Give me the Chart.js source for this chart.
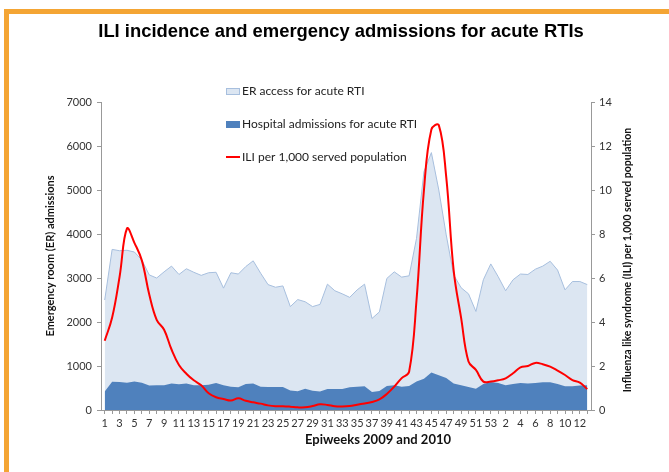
<!DOCTYPE html>
<html>
<head>
<meta charset="utf-8">
<title>ILI incidence and emergency admissions for acute RTIs</title>
<script src="https://cdn.jsdelivr.net/npm/chart.js@4.4.0/dist/chart.umd.min.js"></script>
<style>
  html, body { margin: 0; padding: 0; background: #fff; }
  .wrap { position: relative; width: 669px; height: 472px; overflow: hidden; }
  .frame_top { position: absolute; left: 4px; top: 9px; width: 665px; height: 5px; background: #F4A534; }
  .frame_left { position: absolute; left: 4px; top: 9px; width: 5px; height: 463px; background: #F4A534; }
  canvas { position: absolute; left: 0; top: 0; }
</style>
</head>
<body>
<div class="wrap">
  <canvas id="chart1" width="669" height="472"></canvas>
  <div class="frame_top"></div>
  <div class="frame_left"></div>
</div>
<script>
// epiweeks 1-53 of 2009, then 1-13 of 2010
var weeks2009 = [];
for (var w = 1; w <= 53; w++) weeks2009.push(String(w));
var weeks2010 = ['1','2','3','4','5','6','7','8','9','10','11','12','13'];
var labels = weeks2009.concat(weeks2010);

var erAccess = [2500, 3650, 3620, 3630, 3590, 3410, 3070, 3000, 3140, 3270, 3080, 3210, 3130, 3060, 3120, 3130, 2770,
  3120, 3090, 3260, 3390, 3110, 2850, 2790, 2820, 2350, 2510, 2460, 2350, 2400, 2860, 2710, 2640,
  2560, 2730, 2860, 2080, 2230, 2990, 3140, 3020, 3050, 3900, 5420, 5850, 5000, 3980, 3070, 2780,
  2640, 2240, 2960, 3320, 3030, 2710, 2960, 3090, 3080, 3200, 3270, 3380, 3180, 2730, 2920, 2920, 2850];

var hospAdm = [420, 640, 635, 620, 650, 620, 555, 560, 560, 605, 585, 605, 560, 560, 575, 615, 560,
  530, 515, 590, 600, 530, 525, 525, 525, 445, 425, 485, 440, 420, 475, 475, 475,
  515, 530, 540, 410, 430, 545, 560, 530, 545, 650, 710, 850, 790, 730, 605, 565,
  525, 485, 590, 635, 615, 560, 590, 615, 600, 615, 630, 630, 590, 540, 540, 555, 560];

var iliRate = [3.15, 4.2, 6.05, 8.25, 7.6, 6.8, 5.25, 4.1, 3.65, 2.75, 2.05, 1.65, 1.35, 1.12, 0.76, 0.58, 0.5,
  0.43, 0.53, 0.42, 0.35, 0.29, 0.21, 0.17, 0.17, 0.15, 0.12, 0.12, 0.18, 0.26, 0.23, 0.17, 0.16,
  0.18, 0.24, 0.3, 0.36, 0.48, 0.73, 1.06, 1.45, 1.74, 5.0, 10.0, 12.75, 12.95, 10.6, 6.35, 4.2,
  2.2, 1.82, 1.29, 1.29, 1.35, 1.44, 1.67, 1.94, 2.0, 2.14, 2.08, 1.97, 1.79, 1.59, 1.36, 1.24, 0.95];

var leftTicks = [0, 1000, 2000, 3000, 4000, 5000, 6000, 7000];
var rightTicks = [0, 2, 4, 6, 8, 10, 12, 14];

var titleText = 'ILI incidence and emergency admissions for acute RTIs';
var xTitle = 'Epiweeks 2009 and 2010';
var yTitle = 'Emergency room (ER) admissions';
var y1Title = 'Influenza like syndrome (ILI) per 1,000 served population';

var legendItems = [
  { text: 'ER access for acute RTI', type: 'box', fill: '#DCE6F2', stroke: '#A7BFDE', y: 91.5 },
  { text: 'Hospital admissions for acute RTI', type: 'box', fill: '#4F81BD', stroke: '#4F81BD', y: 124.5 },
  { text: 'ILI per 1,000 served population', type: 'line', fill: '#FF0000', stroke: '#FF0000', y: 157 }
];

Chart.defaults.font.family = 'Lato';
Chart.defaults.color = '#333';

// titles + legend drawn on top of the chart
var textPlugin = {
  id: 'textPlugin',
  afterDraw: function (chart) {
    var ctx = chart.ctx;
    ctx.save();
    ctx.fillStyle = '#000';
    ctx.textAlign = 'center';
    ctx.textBaseline = 'middle';
    ctx.font = 'bold 18.4px "Liberation Sans", Arial, sans-serif';
    ctx.fillText(titleText, 341, 32);

    ctx.fillStyle = '#111';
    ctx.font = 'bold 13px Lato';
    ctx.fillText(xTitle, 378, 440);

    ctx.save();
    ctx.translate(50, 256);
    ctx.rotate(-Math.PI / 2);
    ctx.font = 'bold 11px Lato';
    ctx.fillText(yTitle, 0, 0);
    ctx.restore();

    ctx.save();
    ctx.translate(628, 260);
    ctx.rotate(-Math.PI / 2);
    ctx.font = 'bold 10.5px Lato';
    ctx.fillText(y1Title, 0, 0);
    ctx.restore();

    // legend
    ctx.textAlign = 'left';
    ctx.font = '12px Lato';
    for (var i = 0; i < legendItems.length; i++) {
      var it = legendItems[i];
      if (it.type == 'box') {
        ctx.fillStyle = it.fill;
        ctx.fillRect(226, it.y - 3.5, 14, 7);
        ctx.strokeStyle = it.stroke;
        ctx.lineWidth = 1;
        ctx.strokeRect(226.5, it.y - 3, 13, 6);
      } else {
        ctx.strokeStyle = it.stroke;
        ctx.lineWidth = 2;
        ctx.beginPath();
        ctx.moveTo(226, it.y);
        ctx.lineTo(240, it.y);
        ctx.stroke();
      }
      ctx.fillStyle = '#222';
      ctx.fillText(it.text, 242, it.y);
    }
    ctx.restore();
  }
};

const ctx = document.getElementById('chart1');
new Chart(ctx, {
  type: 'line',
  data: {
    labels: labels,
    datasets: [
      {
        label: 'ER access for acute RTI',
        data: erAccess,
        yAxisID: 'y',
        borderColor: '#A7BFDE',
        borderWidth: 1,
        backgroundColor: '#DCE6F2',
        fill: 'origin',
        pointRadius: 0,
        tension: 0,
        order: 2
      },
      {
        label: 'Hospital admissions for acute RTI',
        data: hospAdm,
        yAxisID: 'y',
        borderColor: '#4F81BD',
        borderWidth: 0,
        backgroundColor: '#4F81BD',
        fill: 'origin',
        pointRadius: 0,
        tension: 0,
        order: 1
      },
      {
        label: 'ILI per 1,000 served population',
        data: iliRate,
        yAxisID: 'y1',
        borderColor: '#FF0000',
        borderWidth: 2,
        fill: false,
        pointRadius: 0,
        tension: 0.4,
        order: 0
      }
    ]
  },
  options: {
    responsive: false,
    animation: false,
    layout: { padding: { top: 102, left: 0, right: 0, bottom: 0 } },
    plugins: {
      legend: { display: false },
      title: { display: false },
      tooltip: { enabled: false }
    },
    scales: {
      x: {
        offset: true,
        grid: { offset: false, drawOnChartArea: false, drawTicks: true, tickLength: 4, color: '#999' },
        border: { display: true, color: '#999' },
        ticks: {
          autoSkip: false,
          maxRotation: 0,
          minRotation: 0,
          padding: 3,
          font: { size: 11 },
          callback: function (val, idx) { return idx % 2 == 0 ? labels[idx] : ''; }
        },
        afterFit: function (s) { s.height = 62; }
      },
      y: {
        position: 'left',
        min: 0,
        max: 7000,
        afterBuildTicks: function (s) { s.ticks = leftTicks.map(function (v) { return { value: v }; }); },
        grid: { drawOnChartArea: false, drawTicks: true, tickLength: 4, color: '#999' },
        border: { display: true, color: '#999' },
        ticks: { padding: 5, font: { size: 11 }, callback: function (v) { return String(v); } },
        afterFit: function (s) { s.width = 101; }
      },
      y1: {
        position: 'right',
        min: 0,
        max: 14,
        afterBuildTicks: function (s) { s.ticks = rightTicks.map(function (v) { return { value: v }; }); },
        grid: { drawOnChartArea: false, drawTicks: true, tickLength: 4, color: '#999' },
        border: { display: true, color: '#999' },
        ticks: { padding: 4, font: { size: 11 }, callback: function (v) { return String(v); } },
        afterFit: function (s) { s.width = 78; }
      }
    }
  },
  plugins: [textPlugin]
});
</script>
</body>
</html>
